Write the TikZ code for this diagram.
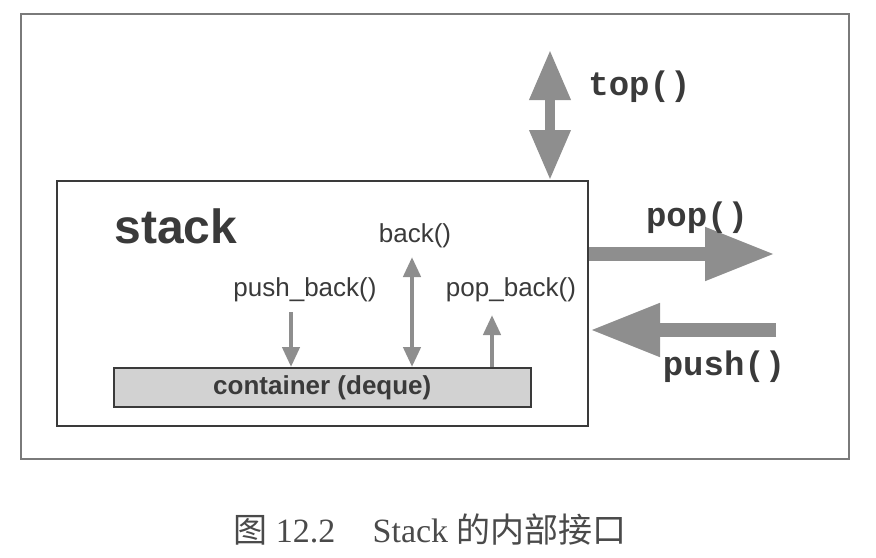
\documentclass[tikz,border=0pt]{standalone}
\usepackage{fontspec}
\setmainfont{Liberation Serif}
\setsansfont{Liberation Sans}
\setmonofont{Liberation Mono}
\newfontfamily\cjk{Noto Sans CJK SC}
\usetikzlibrary{arrows.meta}
\definecolor{arrgray}{HTML}{8E8E8E}
\definecolor{txtgray}{HTML}{3A3A3A}
\definecolor{framegray}{HTML}{7A7A7A}
\definecolor{boxfill}{HTML}{D2D2D2}
\definecolor{capgray}{HTML}{4A4A4A}
\tikzset{
  bigtip/.tip={Triangle[length=25pt,width=19.5pt]},
  hbigtip/.tip={Triangle[length=35pt,width=25pt]},
  smalltip/.tip={Triangle[length=10pt,width=8.5pt]},
  bigarrow/.style={draw=arrgray, line width=5pt},
  smallarrow/.style={draw=arrgray, line width=2.2pt},
  sanslabel/.style={font=\sffamily\fontsize{13}{15}\selectfont, text=txtgray, inner sep=0pt},
  monolabel/.style={font=\ttfamily\bfseries\fontsize{17}{19}\selectfont, text=txtgray, inner sep=0pt},
}
\begin{document}
\begin{tikzpicture}[x=0.5pt,y=-0.5pt]
\useasboundingbox (0,0) rectangle (876,557);
% outer frame
\draw[framegray, line width=0.8pt] (21,14) rectangle (849,459);
% stack box
\node (stack) [draw=txtgray, line width=0.9pt, minimum width=265.5pt, minimum height=122.5pt, anchor=north west, inner sep=0pt] at (56,180) {};
\node (stacklbl) [font=\sffamily\bfseries\fontsize{24}{27}\selectfont, text=txtgray, inner sep=0pt, anchor=base west] at (114,243) {stack};
% container
\node (cont) [draw=txtgray, line width=0.8pt, fill=boxfill, minimum width=208.5pt, minimum height=19.5pt, anchor=north west, inner sep=0pt] at (113,367) {};
\node (contlbl) [font=\sffamily\bfseries\fontsize{13}{15}\selectfont, text=txtgray, inner sep=0pt] at (cont.center) {container (deque)};
% inner labels
\node (backlbl) [sanslabel] at (415,236) {back()};
\node (pushbacklbl) [sanslabel] at (305,290) {push\_back()};
\node (popbacklbl) [sanslabel] at (511,290) {pop\_back()};
% inner arrows
\coordinate (pbstart) at (291,312);
\coordinate (bkstart) at (412,257);
\coordinate (popbend) at (492,315);
\draw[smallarrow, -{smalltip}, arrgray] (pbstart) -- (pbstart |- cont.north);
\draw[smallarrow, {smalltip}-{smalltip}, arrgray] (bkstart) -- (bkstart |- cont.north);
\draw[smallarrow, -{smalltip}, arrgray] (popbend |- cont.north) -- (popbend);
% top arrow
\coordinate (topend) at (550,50);
\draw[bigarrow, {bigtip}-{bigtip}, arrgray] (topend) -- (topend |- stack.north);
\node (toplbl) [monolabel, anchor=west] at (588,87) {top()};
% pop arrow
\coordinate (popend) at (775,254);
\draw[bigarrow, line width=7pt, -{hbigtip}, arrgray] (popend -| stack.east) -- (popend);
\node (poplbl) [monolabel] at (697,218) {pop()};
% push arrow
\coordinate (pushstart) at (776,330);
\coordinate (pushend) at (590,330);
\draw[bigarrow, line width=7pt, -{hbigtip}, arrgray] (pushstart) -- (pushend);
\node (pushlbl) [monolabel] at (724,367) {push()};
% caption
\node (caption) [font=\fontsize{17}{20}\selectfont, text=capgray, inner sep=0pt] at (430,530) {{\cjk 图} 12.2\hspace{1.1em}Stack {\cjk 的内部接口}};
\end{tikzpicture}
\end{document}
